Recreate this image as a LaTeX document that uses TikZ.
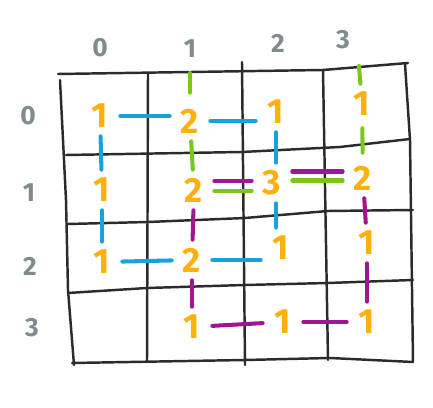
\documentclass[tikz,border=0pt]{standalone}
\usepackage{fontspec}
\setsansfont{Fira Sans}
\definecolor{numorange}{HTML}{FFB00A}
\definecolor{lblgray}{HTML}{7F8C8D}
\definecolor{gridgray}{HTML}{2B2B2B}
\definecolor{dashblue}{HTML}{1BA1DA}
\definecolor{dashgreen}{HTML}{7AC61E}
\definecolor{dashmag}{HTML}{A0168F}
\begin{document}
\begin{tikzpicture}[x=0.02cm, y=-0.02cm, line cap=round, line join=round,
    gridline/.style={line width=1.4pt, draw=gridgray},
    num/.style={circle, minimum size=0.8cm, inner sep=0pt, text=numorange,
      font=\sffamily\bfseries\fontsize{20}{20}\selectfont},
    lbl/.style={text=lblgray, font=\sffamily\bfseries\fontsize{15}{15}\selectfont},
    bluedash/.style={line width=2.3pt, draw=dashblue},
    greendash/.style={line width=2.3pt, draw=dashgreen},
    magdash/.style={line width=2.3pt, draw=dashmag}]
      \useasboundingbox (0,0) rectangle (433,408);

      % draw the grid
      \draw[gridline] (58,74) -- (323,70) -- (408,63);
      \draw[gridline] (66,155) -- (242,152) -- (340,147) -- (410,139);
      \draw[gridline] (68,224) -- (148,222) -- (245,218) -- (328,211) -- (413,210);
      \draw[gridline] (68,293) -- (147,288) -- (245,285) -- (328,283) -- (413,280);
      \draw[gridline] (72,363) -- (245,360) -- (330,358) -- (413,362);
      \draw[gridline] (60,80) -- (66,200) -- (68,290) -- (74,365);
      \draw[gridline] (148,74) -- (147,362);
      \draw[gridline] (242,62) -- (245,365);
      \draw[gridline] (323,70) -- (328,360);
      \draw[gridline] (405,64) -- (410,140) -- (413,362);

      % column and row labels
      \node[lbl] (col0) at (100,48) {0};
      \node[lbl] (col1) at (190,49) {1};
      \node[lbl] (col2) at (278,43) {2};
      \node[lbl] (col3) at (343,40) {3};
      \node[lbl] (row0) at (28,116) {0};
      \node[lbl] (row1) at (29,193) {1};
      \node[lbl] (row2) at (30,266) {2};
      \node[lbl] (row3) at (32,328) {3};

      % numbers in the cells
      \node[num] (c00) at (100,116) {1};
      \node[num] (c01) at (190,121) {2};
      \node[num] (c02) at (276,112) {1};
      \node[num] (c03) at (362,104) {1};
      \node[num] (c10) at (102,190) {1};
      \node[num] (c11) at (194,190) {2};
      \node[num] (c12) at (272,183) {3};
      \node[num] (c13) at (363,178) {2};
      \node[num] (c20) at (102,262) {1};
      \node[num] (c21) at (192,260) {2};
      \node[num] (c22) at (281,248) {1};
      \node[num] (c23) at (367,243) {1};
      \node[num] (c31) at (192,327) {1};
      \node[num] (c32) at (283,322) {1};
      \node[num] (c33) at (367,322) {1};

      \coordinate (top1) at (190,73);
      \coordinate (top3) at (359,66);

      % blue links
      \draw[bluedash] (c00.east) -- (c01.west |- c00.east);
      \draw[bluedash] (c01.east) -- (c02.west |- c01.east);
      \draw[bluedash] (c00) -- (c10);
      \draw[bluedash] (c10) -- (c20);
      \draw[bluedash] (c20) -- (c21);
      \draw[bluedash] (c21.east) -- (c22.west |- c21.east);
      \draw[bluedash] (c02.south) -- (c02.south |- c12.north);
      \draw[bluedash] (c12.south -| c02) -- (c22.north -| c02);

      % green links
      \draw[greendash, shorten >=0.16cm] (top1) -- (c01);
      \draw[greendash] (c01) -- (c11);
      \draw[greendash] (top3) -- (c03);
      \draw[greendash, shorten <=0.08cm, shorten >=0.1cm] (c03) -- (c13);
      \draw[greendash, transform canvas={yshift=-0.02cm}] (c11.east) -- (c12.west |- c11.east);
      \draw[greendash, transform canvas={yshift=0.05cm}] (c12.east) -- (c13.west |- c12.east);

      % magenta links
      \draw[magdash, transform canvas={yshift=0.18cm}] (c11.east) -- (c12.west |- c11.east);
      \draw[magdash, transform canvas={yshift=0.23cm}] (c12.east) -- (c13.west |- c12.east);
      \draw[magdash] (c11) -- (c21);
      \draw[magdash] (c21) -- (c31);
      \draw[magdash] (c13) -- (c23);
      \draw[magdash] (c23) -- (c33);
      \draw[magdash] (c31) -- (c32);
      \draw[magdash] (c32) -- (c33);
\end{tikzpicture}
\end{document}
